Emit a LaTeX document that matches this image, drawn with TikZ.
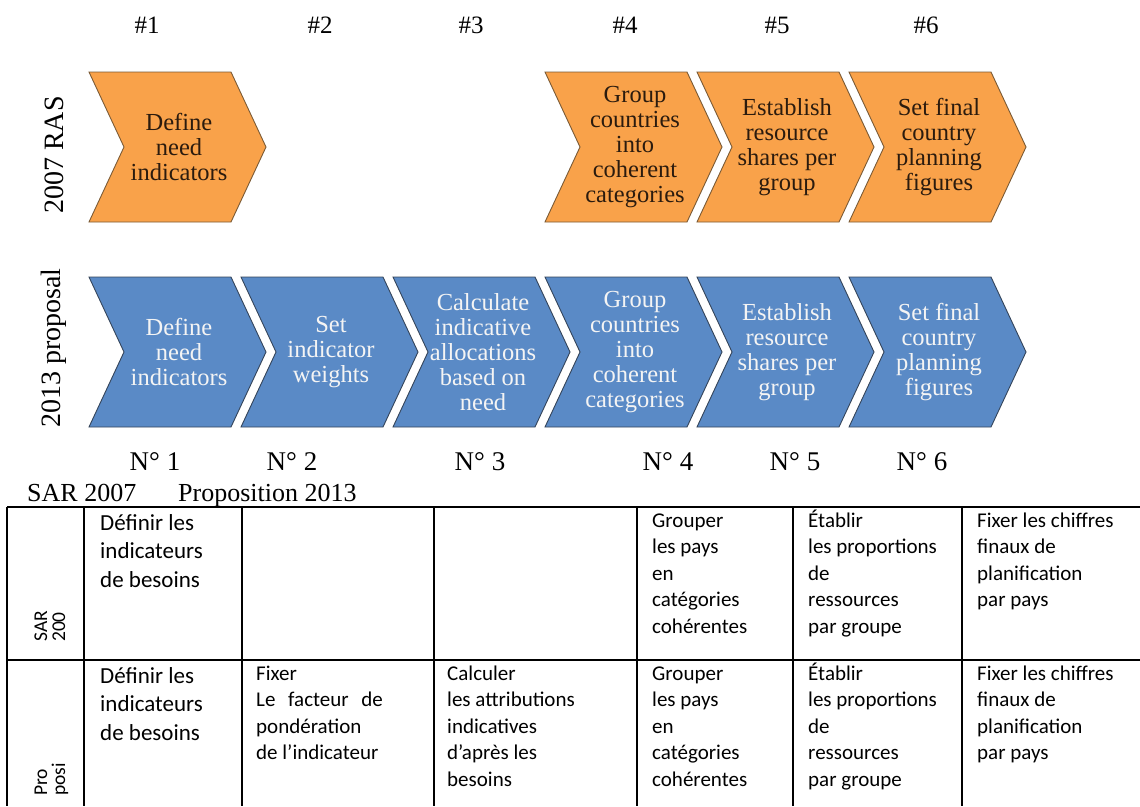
\documentclass[tikz,border=0pt]{standalone}
\usepackage{fontspec}
\setmainfont{Liberation Serif}
\newfontfamily\carl{Carlito}
\definecolor{corange}{HTML}{F9A24A}
\definecolor{cblue}{HTML}{5A8AC6}
\definecolor{oline}{HTML}{7A5A35}
\definecolor{bline}{HTML}{34445A}
\definecolor{otxt}{HTML}{2B1B0E}
\definecolor{btxt}{HTML}{F4F4F4}
\tikzset{
  ochev/.style={fill=corange, draw=oline, line width=0.9pt},
  bchev/.style={fill=cblue, draw=bline, line width=0.9pt},
  otext/.style={text=otxt, font=\fontsize{24.5}{25}\selectfont, align=center, inner sep=0pt},
  btext/.style={text=btxt, font=\fontsize{24.5}{25}\selectfont, align=center, inner sep=0pt},
  hdr/.style={font=\fontsize{25}{28}\selectfont, inner sep=0pt},
  numlbl/.style={font=\fontsize{27}{30}\selectfont, inner sep=0pt},
  sublbl/.style={font=\fontsize{26}{29}\selectfont, inner sep=0pt, anchor=base west},
  rowlbl/.style={font=\fontsize{28}{30}\selectfont, rotate=90, inner sep=0pt},
  cellA/.style={font=\carl\fontsize{23}{28.5}\selectfont, align=left, anchor=north west, inner sep=0pt},
  cellB/.style={font=\carl\fontsize{21}{26.5}\selectfont, align=left, anchor=north west, inner sep=0pt},
  rotlbl/.style={font=\carl\fontsize{19.5}{19.5}\selectfont, rotate=90, anchor=base west, inner sep=0pt},
  tline/.style={line width=1.3pt, black}
}
% #1 name, #2 left x, #3 top y, #4 shape style, #5 text style, #6 text
\newcommand\chev[6]{%
  \filldraw[#4] (#2,#3) -- ++(142,0) -- ++(35,75) -- ++(-35,75) -- ++(-142,0) -- ++(35,-75) -- cycle;
  \node[#5] (#1) at ({#2+90},{#3+75}) {#6};
}
\begin{document}
\begin{tikzpicture}[x=1pt,y=-1pt]
\useasboundingbox (0,0) rectangle (1140,806);
% headers
\node[hdr] (h1) at (147,25) {\#1};
\node[hdr] (h2) at (320,25) {\#2};
\node[hdr] (h3) at (471,25) {\#3};
\node[hdr] (h4) at (625,25) {\#4};
\node[hdr] (h5) at (777,25) {\#5};
\node[hdr] (h6) at (926,25) {\#6};
% row labels
\node[rowlbl] (lab07) at (54,155) {2007 RAS};
\node[rowlbl] (lab13) at (54,348) {2013 proposal};
% orange row
\chev{o1}{89}{72}{ochev}{otext}{Define\\need\\indicators}
\chev{o4}{545}{72}{ochev}{otext}{Group\\countries\\into\\coherent\\categories}
\chev{o5}{697}{72}{ochev}{otext}{Establish\\resource\\shares per\\group}
\chev{o6}{849}{72}{ochev}{otext}{Set final\\country\\planning\\figures}
% blue row
\chev{b1}{89}{277}{bchev}{btext}{Define\\need\\indicators}
\chev{b2}{241}{277}{bchev}{btext}{Set\\indicator\\weights}
\chev{b3}{393}{277}{bchev}{btext}{Calculate\\indicative\\allocations\\based on\\need}
\chev{b4}{545}{277}{bchev}{btext}{Group\\countries\\into\\coherent\\categories}
\chev{b5}{697}{277}{bchev}{btext}{Establish\\resource\\shares per\\group}
\chev{b6}{849}{277}{bchev}{btext}{Set final\\country\\planning\\figures}
% numbers
\node[numlbl] (n1) at (155,462) {N° 1};
\node[numlbl] (n2) at (292,462) {N° 2};
\node[numlbl] (n3) at (480,462) {N° 3};
\node[numlbl] (n4) at (668,462) {N° 4};
\node[numlbl] (n5) at (795,462) {N° 5};
\node[numlbl] (n6) at (922,462) {N° 6};
\node[sublbl] (sar) at (27,501) {SAR 2007};
\node[sublbl] (prop) at (178,501) {Proposition 2013};
% table
\draw[tline] (7,507) -- (1140,507);
\draw[tline] (7,660) -- (1140,660);
\foreach \cx in {7,84,242,434,637,793,962} {
  \draw[tline] (\cx,507) -- (\cx,806);
}
\node[rotlbl] (s1) at (47,642) {SAR};
\node[rotlbl] (s2) at (65,642) {200};
\node[rotlbl] (p1) at (47,796) {Pro};
\node[rotlbl] (p2) at (65,796) {posi};
% row 1
\node[cellA] (r1c1) at (100,510) {\rule{0pt}{20pt}Définir les\\indicateurs\\de besoins};
\node[cellB] (r1c5) at (652,509) {\rule{0pt}{18pt}Grouper\\les pays\\en\\catégories\\cohérentes};
\node[cellB] (r1c6) at (808,509) {\rule{0pt}{18pt}Établir\\les proportions\\de\\ressources\\par groupe};
\node[cellB] (r1c7) at (977,509) {\rule{0pt}{18pt}Fixer les chiffres\\finaux de\\planification\\par pays};
% row 2
\node[cellA] (r2c1) at (100,663) {\rule{0pt}{20pt}Définir les\\indicateurs\\de besoins};
\node[cellB] (r2c3) at (256,662) {\rule{0pt}{18pt}Fixer\\Le\hspace{12.7pt}facteur\hspace{12.7pt}de\\pondération\\de l’indicateur};
\node[cellB] (r2c4) at (447,662) {\rule{0pt}{18pt}Calculer\\les attributions\\indicatives\\d’après les\\besoins};
\node[cellB] (r2c5) at (652,662) {\rule{0pt}{18pt}Grouper\\les pays\\en\\catégories\\cohérentes};
\node[cellB] (r2c6) at (808,662) {\rule{0pt}{18pt}Établir\\les proportions\\de\\ressources\\par groupe};
\node[cellB] (r2c7) at (977,662) {\rule{0pt}{18pt}Fixer les chiffres\\finaux de\\planification\\par pays};
\end{tikzpicture}
\end{document}
